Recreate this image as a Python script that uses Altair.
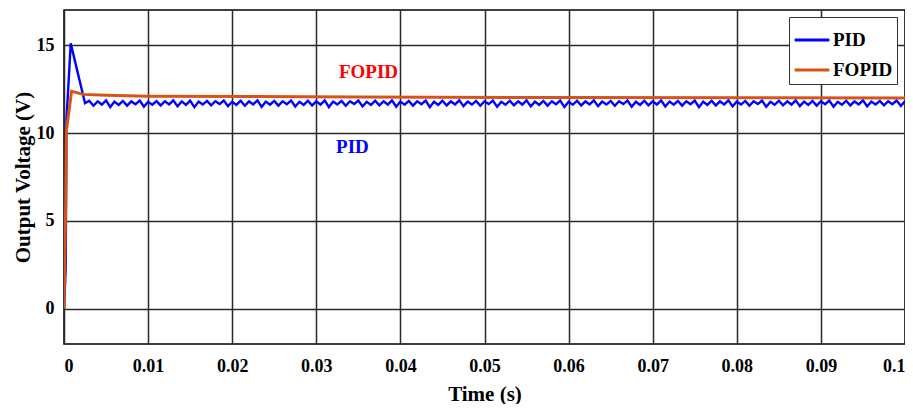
import altair as alt
import numpy as np
import pandas as pd

# ---- data ----
pid_start_t = [0.0, 0.0002, 0.0003, 0.0008, 0.0025]
pid_start_v = [0.0, 2.3, 10.8, 15.1, 11.7]

# steady-state ripple of PID output (sampled every 0.5 ms from 3 ms)
pid_ripple = [
    11.84, 11.55, 11.80, 11.62, 11.86, 11.48, 11.79, 11.60, 11.83, 11.56,
    11.80, 11.64, 11.85, 11.50, 11.78, 11.61, 11.82, 11.57, 11.81, 11.63,
    11.86, 11.52, 11.80, 11.60, 11.84, 11.47, 11.79, 11.62, 11.83, 11.58,
    11.81, 11.65, 11.85, 11.53, 11.78, 11.60, 11.84, 11.55, 11.80, 11.63,
    11.86, 11.49, 11.79, 11.61, 11.83, 11.56, 11.81, 11.64, 11.85, 11.51,
    11.78, 11.60, 11.84, 11.57, 11.80, 11.62, 11.86, 11.48, 11.79, 11.63,
    11.83, 11.55, 11.81, 11.65, 11.85, 11.52, 11.78, 11.60, 11.84, 11.58,
    11.80, 11.62, 11.86, 11.50, 11.79, 11.61, 11.83, 11.56, 11.81, 11.64,
    11.85, 11.47, 11.78, 11.60, 11.84, 11.57, 11.80, 11.63, 11.86, 11.53,
    11.79, 11.62, 11.83, 11.55, 11.81, 11.65, 11.85, 11.49, 11.78, 11.61,
    11.84, 11.58, 11.80, 11.62, 11.86, 11.52, 11.79, 11.60, 11.83, 11.56,
    11.81, 11.64, 11.85, 11.48, 11.78, 11.61, 11.84, 11.57, 11.80, 11.63,
    11.86, 11.53, 11.79, 11.62, 11.83, 11.55, 11.81, 11.65, 11.85, 11.50,
    11.78, 11.60, 11.84, 11.58, 11.80, 11.62, 11.86, 11.51, 11.79, 11.61,
    11.83, 11.56, 11.81, 11.64, 11.85, 11.47, 11.78, 11.60, 11.84, 11.57,
    11.80, 11.63, 11.86, 11.52, 11.79, 11.62, 11.83, 11.55, 11.81, 11.65,
    11.85, 11.49, 11.78, 11.61, 11.84, 11.58, 11.80, 11.62, 11.86, 11.53,
    11.79, 11.60, 11.83, 11.56, 11.81, 11.64, 11.85, 11.50, 11.78, 11.61,
    11.84, 11.57, 11.80, 11.63, 11.86, 11.52, 11.79, 11.62, 11.83, 11.58,
    11.81, 11.64, 11.85, 11.55, 11.80,
]
ripple_t0 = 0.003
ripple_dt = 0.0005

fopid_t = [0.0, 0.0002, 0.0003, 0.0009, 0.0023, 0.005, 0.01, 0.035, 0.06, 0.1]
fopid_v = [0.0, 6.0, 10.2, 12.37, 12.2, 12.15, 12.1, 12.05, 12.02, 12.0]

series_names = ["PID", "FOPID"]
series_colors = ["#0000FF", "#D95319"]

x_ticks = [0, 0.01, 0.02, 0.03, 0.04, 0.05, 0.06, 0.07, 0.08, 0.09, 0.1]
y_ticks = [0, 5, 10, 15]

ann_text = ["FOPID", "PID"]
ann_x = [0.0362, 0.0343]
ann_y = [13.45, 9.2]
ann_color = ["#FF0000", "#0000FF"]

# ---- build tables ----
ripple_times = ripple_t0 + ripple_dt * np.arange(len(pid_ripple))
pid_df = pd.DataFrame({
    "t": list(pid_start_t) + list(ripple_times),
    "v": list(pid_start_v) + list(pid_ripple),
    "series": "PID",
})
pid_df = pid_df[pid_df["t"] <= 0.1]
fopid_df = pd.DataFrame({"t": fopid_t, "v": fopid_v, "series": "FOPID"})
ann_df = pd.DataFrame({"text": ann_text, "t": ann_x, "v": ann_y, "c": ann_color})

FONT = "Liberation Serif"

x_enc = alt.X("t:Q", scale=alt.Scale(domain=[0, 0.1], nice=False, zero=False),
              axis=alt.Axis(values=x_ticks, format="~g", title="Time (s)",
                            labelPadding=13, titlePadding=8))
y_enc = alt.Y("v:Q", scale=alt.Scale(domain=[-2, 17], nice=False, zero=False),
              axis=alt.Axis(values=y_ticks, title="Output Voltage (V)",
                            labelPadding=10, titlePadding=3))
color_enc = alt.Color("series:N",
                      scale=alt.Scale(domain=series_names, range=series_colors),
                      legend=alt.Legend(title=None, orient="none",
                                        legendX=725, legendY=7,
                                        symbolType="stroke", symbolStrokeWidth=3,
                                        symbolSize=1200, labelFont=FONT,
                                        labelFontSize=19, labelFontWeight="bold",
                                        labelColor="black",
                                        strokeColor="#333333", fillColor="white",
                                        padding=4, rowPadding=1, labelOffset=2))

pid_line = alt.Chart(pid_df).mark_line(strokeWidth=2.4, clip=True).encode(
    x=x_enc, y=y_enc, color=color_enc, order="t:Q")
fopid_line = alt.Chart(fopid_df).mark_line(strokeWidth=3, clip=True).encode(
    x=x_enc, y=y_enc, color=color_enc, order="t:Q")

ann = alt.Chart(ann_df).mark_text(font=FONT, fontSize=19, fontWeight="bold",
                                  align="center", baseline="middle").encode(
    x="t:Q", y="v:Q", text="text:N",
    color=alt.Color("c:N", scale=None, legend=None))

chart = alt.layer(pid_line, fopid_line, ann).properties(
    width=841, height=334,
    autosize=alt.AutoSizeParams(type="none"),
    padding={"left": 56, "top": 2, "right": 0, "bottom": 60},
).configure_view(
    stroke="black", strokeWidth=1.5
).configure_axis(
    grid=True, gridColor="#2a2a2a", gridWidth=1.5, gridOpacity=1,
    domain=False, ticks=False,
    labelFont=FONT, labelFontSize=18, labelFontWeight="bold", labelColor="black",
    titleFont=FONT, titleFontSize=21, titleFontWeight="bold", titleColor="black",
)

chart.save("out.html", embed_options={"renderer": "svg", "actions": False})
